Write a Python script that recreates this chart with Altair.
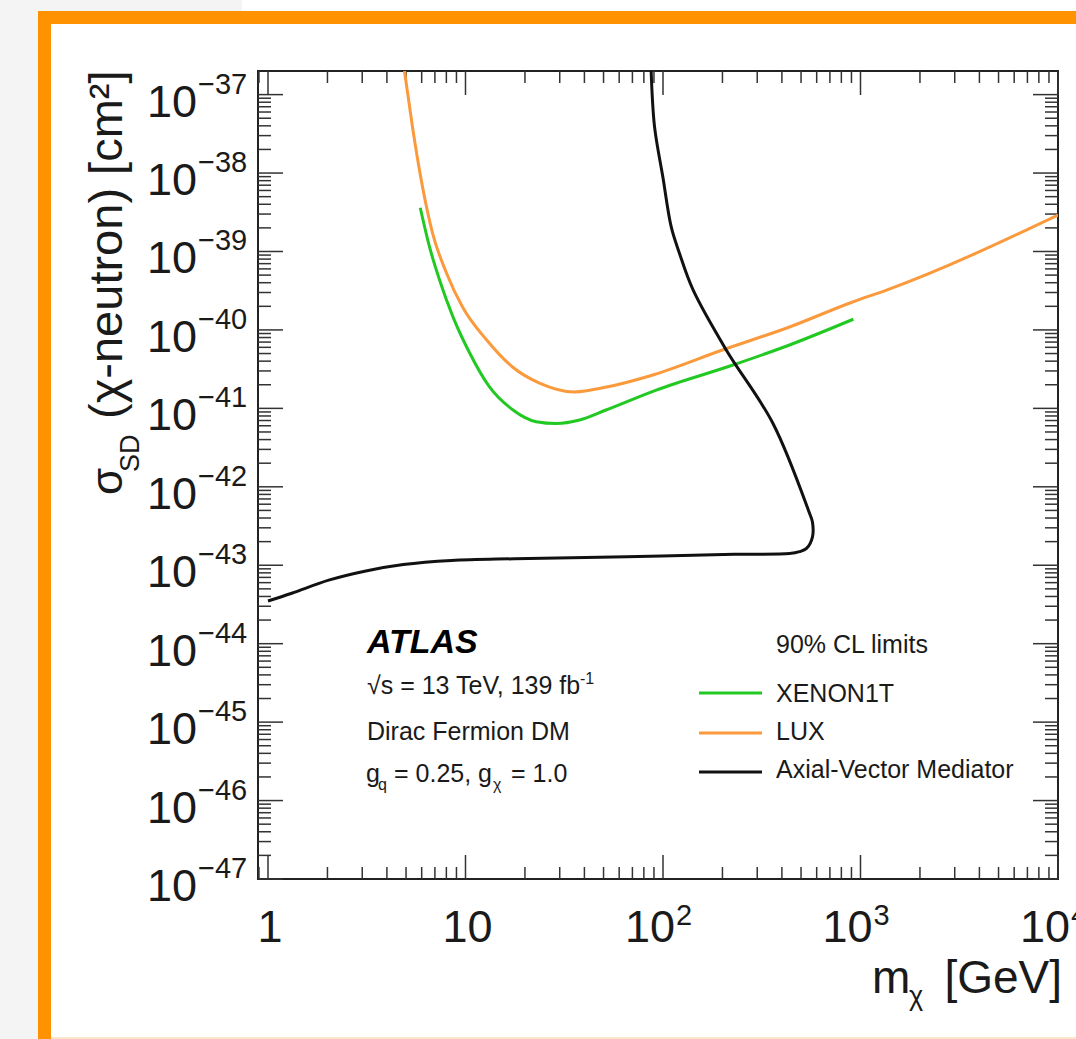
import altair as alt
import pandas as pd

# 90% CL limits on the spin-dependent WIMP-neutron cross section
# mass in GeV, cross section in cm^2
xenon_mass = [5.90, 6.57, 7.39, 8.63, 10.5, 13.2, 17.4, 22.8, 28.8, 37.8, 51.5, 92.4, 226, 437, 920]
xenon_xsec = [3.61e-39, 1.15e-39, 4.33e-40, 1.48e-40, 5.08e-41, 1.89e-41, 9.53e-42, 6.76e-42,
              6.41e-42, 7.11e-42, 9.53e-42, 1.71e-41, 3.57e-41, 6.43e-41, 1.37e-40]

lux_mass = [4.91, 5.39, 6.06, 6.81, 8.01, 9.66, 12.8, 17.3, 23.7, 35.6, 51.8, 85.5, 200, 437,
            912, 1355, 10000]
lux_xsec = [2.0e-37, 3.86e-38, 6.64e-39, 1.72e-39, 5.32e-40, 1.96e-40, 7.43e-41, 3.37e-41,
            2.10e-41, 1.62e-41, 1.87e-41, 2.59e-41, 5.55e-41, 1.09e-40, 2.27e-40, 3.22e-40, 2.92e-39]

av_mass = [87.1, 90.6, 99.8, 110, 121, 142, 209, 360, 552, 571, 571, 533, 491, 437, 230, 65.3,
           17.7, 8.49, 4.84, 3.13, 2.03, 1.32, 1.0]
av_xsec = [2.0e-37, 3.90e-38, 8.97e-39, 2.07e-39, 9.57e-40, 3.23e-40, 5.55e-41, 6.46e-42,
           4.59e-43, 3.56e-43, 2.29e-43, 1.64e-43, 1.49e-43, 1.41e-43, 1.38e-43, 1.28e-43,
           1.21e-43, 1.15e-43, 1.02e-43, 8.45e-44, 6.45e-44, 4.40e-44, 3.50e-44]

series_names = ["XENON1T", "LUX", "Axial-Vector Mediator"]
series_colors = ["#22c922", "#fa9a3c", "#111111"]

# axis decades
x_decades = [1, 10, 100, 1000, 10000]
x_plain_labels = ["1", "10"]
x_power_labels = ["2", "3", "4"]
y_exponents = list(range(-47, -36))

# ---- layout / style
W, H = 800, 808
FONT = "Liberation Sans"
INK = "#1a1a1a"
TICK = "#333333"
ORANGE = "#ff9200"

xs = alt.Scale(type="log", domain=[0.89, 10000], nice=False)
ys = alt.Scale(type="log", domain=[1e-47, 2e-37], nice=False)
color_scale = alt.Scale(domain=series_names, range=series_colors)
one = pd.DataFrame({"k": [0]})


def curve_frame(name, mass, xsec):
    return pd.DataFrame({"mass": mass, "xsec": xsec, "series": name, "i": range(len(mass))})


smooth_df = pd.concat([curve_frame("XENON1T", xenon_mass, xenon_xsec),
                       curve_frame("LUX", lux_mass, lux_xsec)], ignore_index=True)
av_df = curve_frame("Axial-Vector Mediator", av_mass, av_xsec)


def curves(df, interp):
    return alt.Chart(df).mark_line(strokeWidth=3, interpolate=interp, clip=True).encode(
        x=alt.X("mass:Q", scale=xs, axis=None),
        y=alt.Y("xsec:Q", scale=ys, axis=None),
        color=alt.Color("series:N", scale=color_scale, legend=None),
        order=alt.Order("i:Q"),
    )


# ---- tick marks drawn inward on all four sides
x_minor = [k * 10.0 ** d for d in range(-1, 4) for k in range(2, 10) if 0.89 <= k * 10.0 ** d <= 10000]
y_major = [10.0 ** e for e in y_exponents]
y_minor = [k * 10.0 ** e for e in y_exponents[:-1] for k in range(2, 10)]


def xticks(vals, length):
    d = pd.DataFrame({"v": vals})
    base = alt.Chart(d).mark_rule(color=TICK, strokeWidth=1.5)
    enc = dict(x=alt.X("v:Q", scale=xs, axis=None))
    return [base.encode(**enc, y=alt.value(H), y2=alt.value(H - length)),
            base.encode(**enc, y=alt.value(0), y2=alt.value(length))]


def yticks(vals, length):
    d = pd.DataFrame({"v": vals})
    base = alt.Chart(d).mark_rule(color=TICK, strokeWidth=1.5)
    enc = dict(y=alt.Y("v:Q", scale=ys, axis=None))
    return [base.encode(**enc, x=alt.value(0), x2=alt.value(length)),
            base.encode(**enc, x=alt.value(W), x2=alt.value(W - length))]


def text(s, x, y, size, **kw):
    props = dict(text=s, font=FONT, fontSize=size, color=INK, align="left", baseline="alphabetic")
    props.update(kw)
    return alt.Chart(one).mark_text(**props).encode(x=alt.value(x), y=alt.value(y))


def box(x, x2, y, y2, color):
    return alt.Chart(one).mark_rect(color=color).encode(
        x=alt.value(x), x2=alt.value(x2), y=alt.value(y), y2=alt.value(y2))


# ---- tick labels as 10^n with raised exponents
ylab_df = pd.DataFrame({"v": y_major, "e": ["\u2212" + str(-e) for e in y_exponents]})
ylab_base = alt.Chart(ylab_df).mark_text(text="10", font=FONT, fontSize=45, color=INK,
                                         align="right", baseline="alphabetic", dy=22).encode(
    y=alt.Y("v:Q", scale=ys, axis=None), x=alt.value(-61))
ylab_exp = alt.Chart(ylab_df).mark_text(font=FONT, fontSize=29, color=INK,
                                        align="left", baseline="alphabetic", dy=-1).encode(
    y=alt.Y("v:Q", scale=ys, axis=None), x=alt.value(-60), text="e:N")

xplain_df = pd.DataFrame({"v": x_decades[:2], "t": x_plain_labels})
xpow_df = pd.DataFrame({"v": x_decades[2:], "e": x_power_labels})
xlab_plain = alt.Chart(xplain_df).mark_text(font=FONT, fontSize=45, color=INK, align="center",
                                            baseline="alphabetic", dx=2).encode(
    x=alt.X("v:Q", scale=xs, axis=None), y=alt.value(871), text="t:N")
xlab_base = alt.Chart(xpow_df).mark_text(text="10", font=FONT, fontSize=45, color=INK,
                                         align="right", baseline="alphabetic", dx=12).encode(
    x=alt.X("v:Q", scale=xs, axis=None), y=alt.value(871))
xlab_exp = alt.Chart(xpow_df).mark_text(font=FONT, fontSize=29, color=INK, align="left",
                                        baseline="alphabetic", dx=13).encode(
    x=alt.X("v:Q", scale=xs, axis=None), y=alt.value(854), text="e:N")

# ---- axis titles
titles = [
    text("m", 614, 922, 46),
    text("\u03c7", 651, 934, 27),
    text("[GeV]", 804, 922, 46, align="right"),
    text("\u03c3", -136, 424, 44, angle=270),
    text("SD", -119, 401, 27, angle=270),
    text("(\u03c7-neutron) [cm\u00b2]", -136, 348, 47, angle=270),
]

# ---- experiment label and model description
labels = [
    text("ATLAS", 109, 582, 34, fontStyle="italic", fontWeight="bold", color="#000000"),
    text("\u221as = 13 TeV, 139 fb", 109, 623, 25),
    text("-1", 322, 613, 16),
    text("Dirac Fermion DM", 109, 669, 25),
    text("g", 108, 711, 25),
    text("q", 120, 719, 16),
    text("= 0.25, g", 136, 711, 25),
    text("\u03c7", 235, 719, 16),
    text("= 1.0", 253, 711, 25),
]

# ---- legend
legend = [text("90% CL limits", 518, 582, 25)]
legend_line_y = [622, 662, 701]
legend_text_y = [631, 669, 707]
for name, col, ly, ty in zip(series_names, series_colors, legend_line_y, legend_text_y):
    legend.append(alt.Chart(one).mark_rule(color=col, strokeWidth=3).encode(
        x=alt.value(441), x2=alt.value(504), y=alt.value(ly)))
    legend.append(text(name, 518, ty, 25))

# ---- page decoration: orange slide frame
decor = [
    box(-258, -220, -71, 968, "#f4f4f4"),
    box(-258, -16, -71, -60, "#f4f4f4"),
    box(-220, 818, -60, -47, ORANGE),
    box(-220, -207, -60, 968, ORANGE),
    box(-207, 818, 966, 968, "#fde6cc"),
]

layers = (decor
          + xticks(x_decades, 24) + xticks(x_minor, 12)
          + yticks(y_major, 25) + yticks(y_minor, 13)
          + [curves(smooth_df, "monotone"), curves(av_df, "catmull-rom")]
          + [ylab_base, ylab_exp, xlab_plain, xlab_base, xlab_exp]
          + titles + labels + legend)

chart = alt.layer(*layers).properties(
    width=W, height=H,
    autosize=alt.AutoSizeParams(type="none"),
    padding={"left": 258, "top": 71, "right": 18, "bottom": 160},
    background="white",
).configure_view(stroke="#222222", strokeWidth=2)

chart.save("out.html", embed_options={"renderer": "svg", "actions": False})
